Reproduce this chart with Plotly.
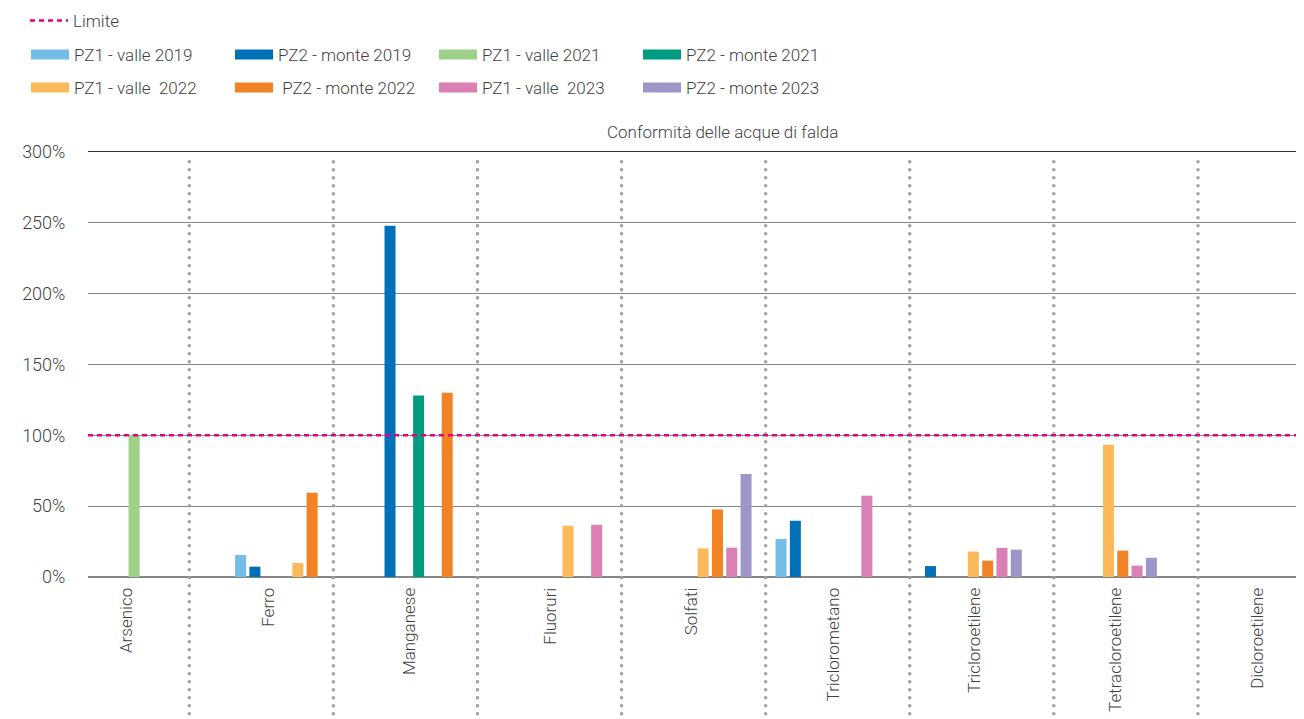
import plotly.graph_objects as go

categories = ["Arsenico", "Ferro", "Manganese", "Fluoruri", "Solfati",
              "Triclorometano", "Tricloroetilene", "Tetracloroetilene", "Dicloroetilene"]

series_names = ["PZ1 - valle 2019", "PZ2 - monte 2019", "PZ1 - valle 2021", "PZ2 - monte 2021",
                "PZ1 - valle  2022", " PZ2 - monte 2022", "PZ1 - valle  2023", "PZ2 - monte 2023"]
series_colors = ["#74BDE8", "#0070B9", "#9FD08A", "#009C82",
                 "#FBB95B", "#F28325", "#DB80B4", "#9E95C8"]

pz1_valle_2019 = [None, 15.5, None, None, None, 26.8, None, None, None]
pz2_monte_2019 = [None, 7.3, 248, None, None, 39.7, 7.7, None, None]
pz1_valle_2021 = [100, None, None, None, None, None, None, None, None]
pz2_monte_2021 = [None, None, 128.2, None, None, None, None, None, None]
pz1_valle_2022 = [None, 9.9, None, 36.2, 20.2, None, 17.9, 93.4, None]
pz2_monte_2022 = [None, 59.5, 130, None, 47.7, None, 11.5, 18.6, None]
pz1_valle_2023 = [None, None, None, 36.9, 20.7, 57.4, 20.5, 8.0, None]
pz2_monte_2023 = [None, None, None, None, 72.7, None, 19.3, 13.6, None]

series_values = [pz1_valle_2019, pz2_monte_2019, pz1_valle_2021, pz2_monte_2021,
                 pz1_valle_2022, pz2_monte_2022, pz1_valle_2023, pz2_monte_2023]

limit_value = 100
limit_name = "Limite"
limit_color = "#E6007E"
title_text = "Conformità delle acque di falda"
y_ticks = [0, 50, 100, 150, 200, 250, 300]
y_ticktext = ["0%", "50%", "100%", "150%", "200%", "250%", "300%"]

FONT = "Roboto"
TXT = "#3F3F3F"
W, H = 1296, 711  # page body adds an 8px offset


def font(size=17):
    return dict(family=FONT, size=size, color=TXT, weight=300)


fig = go.Figure()

for name, vals, col in zip(series_names, series_values, series_colors):
    fig.add_trace(go.Bar(
        x=categories, y=vals, name=name, marker=dict(color=col, line=dict(width=0)),
        showlegend=False, xaxis="x", yaxis="y",
        hovertemplate="%{x}: %{y}%<extra>" + name + "</extra>",
    ))

# legend entries (wide swatches)
for i, (name, col) in enumerate(zip(series_names, series_colors)):
    fig.add_trace(go.Scatter(
        x=[None], y=[None], mode="lines", name=name,
        line=dict(color=col, width=17),
        legend="legend2" if i < 4 else "legend3",
        hoverinfo="skip",
    ))

fig.add_trace(go.Scatter(x=[None], y=[None], mode="lines", name=limit_name,
                         line=dict(color=limit_color, width=2.5, dash="5px,4px"),
                         legend="legend", hoverinfo="skip"))

# label axis and divider axis helper traces
fig.add_trace(go.Scatter(x=list(range(len(categories))), y=[None] * len(categories),
                         xaxis="x2", yaxis="y", showlegend=False, hoverinfo="skip"))
fig.add_trace(go.Scatter(x=list(range(len(categories))), y=[None] * len(categories),
                         xaxis="x3", yaxis="y", showlegend=False, hoverinfo="skip"))

shapes = []
for i in range(len(categories) - 1):
    shapes.append(dict(type="line", xref="x3", yref="paper", x0=i + 0.5, x1=i + 0.5,
                       y0=-0.325, y1=0.984,
                       line=dict(color="#A0A0A0", width=3, dash="3px,5px"), layer="above"))
shapes.append(dict(type="line", xref="paper", yref="y", x0=0, x1=1, y0=limit_value, y1=limit_value,
                   line=dict(color=limit_color, width=2.5, dash="5px,4px"), layer="above"))

legend_common = dict(orientation="h", font=font(17),
                     bgcolor="rgba(0,0,0,0)", itemwidth=38, xref="container", yref="container",
                     xanchor="left", yanchor="middle", traceorder="normal", itemclick=False)

fig.update_layout(
    width=W, height=H,
    margin=dict(l=80, r=0, t=144, b=142, pad=0),
    paper_bgcolor="white", plot_bgcolor="white",
    barmode="group", bargap=0.153, bargroupgap=0.23,
    font=font(17),
    xaxis=dict(type="category", showticklabels=False, showgrid=False, zeroline=False,
               showline=False, ticks="", range=[-0.5, len(categories) - 0.5]),
    xaxis2=dict(overlaying="x", anchor="y", side="bottom", range=[-0.274, 8.332],
                tickmode="array", tickvals=list(range(len(categories))), ticktext=categories,
                tickangle=-90, showgrid=False, zeroline=False, showline=False,
                ticks="outside", ticklen=3, tickcolor="rgba(0,0,0,0)", automargin=False,
                tickfont=font(17)),
    xaxis3=dict(overlaying="x", anchor="y", side="top", range=[-0.203, 8.236],
                showticklabels=False, showgrid=False, zeroline=False, ticks="",
                showline=True, linecolor="#333333", linewidth=1),
    yaxis=dict(range=[0, 300], tickmode="array", tickvals=y_ticks, ticktext=y_ticktext,
               showgrid=True, gridcolor="#858585", gridwidth=1, zeroline=True,
               zerolinecolor="#858585", zerolinewidth=1.5, showline=False,
               ticks="outside", ticklen=18, tickcolor="rgba(0,0,0,0)",
               tickfont=font(18)),
    shapes=shapes,
    legend=dict(x=17 / W, y=1 - 13 / H, **legend_common),
    legend2=dict(x=18 / W, y=1 - 47 / H, entrywidth=151, **legend_common),
    legend3=dict(x=18 / W, y=1 - 80 / H, entrywidth=151, **legend_common),
    annotations=[dict(text=title_text, xref="paper", yref="paper", x=(722 - 88) / 1216,
                      y=1 + 20 / 425, xanchor="center", yanchor="middle", showarrow=False,
                      font=font(17))],
)

fig.write_html("out.html")
